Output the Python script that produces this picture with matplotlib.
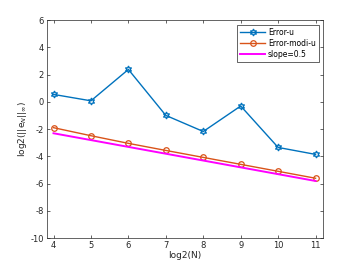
import numpy as np
import matplotlib
matplotlib.use('Agg')
import matplotlib.pyplot as plt

# datos
logN = [4, 5, 6, 7, 8, 9, 10, 11]
error_u = [0.55, 0.08, 2.38, -0.99, -2.17, -0.30, -3.34, -3.85]
error_modi_u = [-1.89, -2.48, -3.04, -3.56, -4.07, -4.58, -5.09, -5.60]
slope_ref = [-2.3, -2.8, -3.3, -3.8, -4.3, -4.8, -5.3, -5.8]

plt.rcParams['font.family'] = 'DejaVu Sans'
plt.rcParams['font.size'] = 6
plt.rcParams['axes.unicode_minus'] = False

fig = plt.figure(figsize=(3.57, 2.68), dpi=100)
ax = fig.add_axes([0.131, 0.111, 0.775, 0.814])

# hexagrama abierto como en MATLAB
ax.plot(logN, error_u, color='#0072BD', lw=1.0, marker=(6, 1, 0), ms=5,
        mfc='none', mew=0.9, label='Error-u')
ax.plot(logN, error_modi_u, color='#D95319', lw=1.0, marker='o', ms=4,
        mfc='none', mew=0.9, label='Error-modi-u')
ax.plot(logN, slope_ref, color='#FF00FF', lw=1.4, label='slope=0.5')

ax.set_xlim(3.82, 11.21)
ax.set_ylim(-10, 6)
ax.set_xticks(logN)
ax.set_yticks(np.arange(-10, 7, 2))
ax.tick_params(direction='in', length=2.5, width=0.5, colors='#262626',
               labelsize=6, top=True, right=True, pad=2)
for s in ax.spines.values():
    s.set_linewidth(0.5)
    s.set_color('#262626')

ax.set_xlabel('log2(N)', fontsize=6.5, color='#262626', labelpad=1)
ax.set_ylabel(r'log2(||e$_N$||$_\infty$)', fontsize=6.5, color='#262626', labelpad=1)

leg = ax.legend(loc='upper right', fontsize=5.5, fancybox=False, framealpha=1,
                edgecolor='#262626', handlelength=3.2, borderpad=0.4,
                labelspacing=0.25, handletextpad=0.4, borderaxespad=0.6)
leg.get_frame().set_linewidth(0.5)

fig.savefig('out.png', dpi=100)
